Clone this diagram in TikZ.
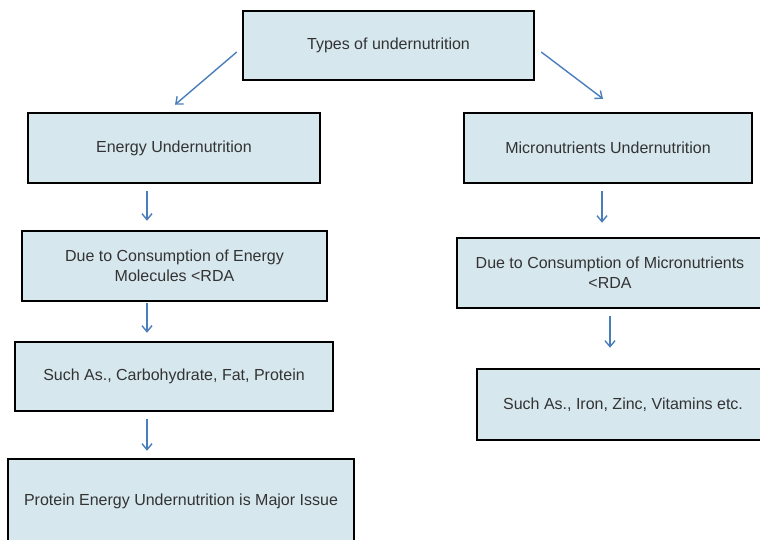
\documentclass[tikz,border=0pt]{standalone}
\usepackage{fontspec}
\setmainfont{Liberation Sans}
\usetikzlibrary{arrows.meta}
\definecolor{boxfill}{HTML}{D6E7EE}
\definecolor{boxtext}{HTML}{333333}
\definecolor{arrowblue}{HTML}{4A7EBB}
\begin{document}
\begin{tikzpicture}[x=1pt,y=-1pt,
  box/.style={draw=black, line width=2.5pt, fill=boxfill, text=boxtext,
    align=center, inner sep=0pt, font=\fontsize{16}{20}\selectfont},
  arr/.style={draw=arrowblue, line width=1.4pt,
    -{Straight Barb[length=6pt,width=10pt,line width=1.4pt]}}]
\useasboundingbox (0,0) rectangle (760,539);
\clip (0,0) rectangle (760,539);

% boxes
\node[box, minimum width=291pt, minimum height=69pt] (top) at (388.5,45.5) {Types of undernutrition};
\node[box, minimum width=292pt, minimum height=70pt] (eu) at (174,148) {Energy Undernutrition};
\node[box, minimum width=288pt, minimum height=70pt] (mu) at (608,148) {Micronutrients Undernutrition};
\node[box, minimum width=305pt, minimum height=70pt] (dce) at (174.5,266) {Due to Consumption of Energy\\Molecules <RDA};
\node[box, minimum width=318pt, minimum height=69pt] (sac) at (174,376.5) {Such As., Carbohydrate, Fat, Protein};
\node[box, minimum width=346pt, minimum height=84pt] (pe) at (181,501) {Protein Energy Undernutrition is Major Issue};
\node[box, minimum width=306pt, minimum height=70pt] (dcm) at (610,273) {Due to Consumption of Micronutrients\\<RDA};
\node[box, minimum width=292pt, minimum height=71pt] (sai) at (623,404.5) {Such As., Iron, Zinc, Vitamins etc.};

% connectors
\draw[arr] ([xshift=-5pt,yshift=-6.5pt]top.west) -- ([xshift=1pt,yshift=7pt]eu.north);
\draw[arr] ([xshift=6pt,yshift=-6.5pt]top.east) -- ([xshift=-5pt,yshift=13pt]mu.north);
\draw[arr] ([xshift=-27pt,yshift=-7pt]eu.south) -- ([xshift=-27.5pt,yshift=9pt]dce.north);
\draw[arr] ([xshift=-27.5pt,yshift=-1pt]dce.south) -- ([xshift=-27pt,yshift=8pt]sac.north);
\draw[arr] ([xshift=-27pt,yshift=-7pt]sac.south) -- ([xshift=-34pt,yshift=7pt]pe.north);
\draw[arr] ([xshift=-6pt,yshift=-7pt]mu.south) -- ([xshift=-8pt,yshift=14pt]dcm.north);
\draw[arr] ([xshift=0pt,yshift=-7pt]dcm.south) -- ([xshift=-13pt,yshift=20pt]sai.north);
\end{tikzpicture}
\end{document}
